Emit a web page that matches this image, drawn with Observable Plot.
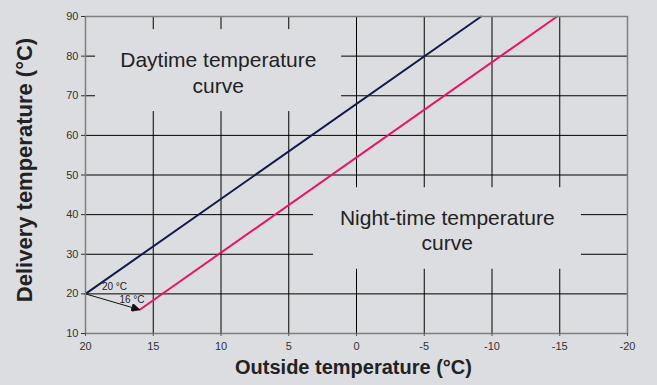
<!DOCTYPE html>
<html>
<head>
<meta charset="utf-8">
<script src="https://cdn.jsdelivr.net/npm/d3@7"></script>
<script src="https://cdn.jsdelivr.net/npm/@observablehq/plot@0.6"></script>
<style>
  html, body { margin: 0; padding: 0; background: #dcdde0; }
  #chart svg { display: block; }
</style>
</head>
<body>
<div id="chart"></div>
<script>
// Tick values
const xTicks = [20, 15, 10, 5, 0, -5, -10, -15, -20];
const yTicks = [10, 20, 30, 40, 50, 60, 70, 80, 90];

// Heating curves (outside temp -> delivery temp)
const dayOutside = [20, -9.2];
const dayDelivery = [20, 90];
const nightOutside = [16, -14.8];
const nightDelivery = [16, 90];

// Setback arrow (20 °C -> 16 °C)
const arrowFrom = [20, 20];
const arrowTo = [16, 16];

// Annotation labels and their backing panels (data units)
const noteTexts = ["Daytime temperature\ncurve", "Night-time temperature\ncurve"];
const noteX = [10.2, -6.7];
const noteY = [76.0, 36.2];
const panelX1 = [19.26, 3.17];
const panelX2 = [1.1, -16.6];
const panelY1 = [66.0, 26.2];
const panelY2 = [86.7, 46.8];

const smallTexts = ["20 °C", "16 °C"];
const smallX = [17.86, 16.57];
const smallY = [21.7, 18.6];

const bg = "#dcdde0";
const day = dayOutside.map((x, i) => ({x, y: dayDelivery[i]}));
const night = nightOutside.map((x, i) => ({x, y: nightDelivery[i]}));
const notes = noteTexts.map((t, i) => ({t, x: noteX[i], y: noteY[i]}));
const panels = panelX1.map((x1, i) => ({x1, x2: panelX2[i], y1: panelY1[i], y2: panelY2[i]}));
const smalls = smallTexts.map((t, i) => ({t, x: smallX[i], y: smallY[i]}));
const arrows = [{x1: arrowFrom[0], y1: arrowFrom[1], x2: arrowTo[0], y2: arrowTo[1]}];

function filledArrow(color) {
  const m = d3.create("svg:marker")
    .attr("viewBox", "0 0 10 10")
    .attr("refX", 10).attr("refY", 5)
    .attr("markerWidth", 9).attr("markerHeight", 8)
    .attr("markerUnits", "userSpaceOnUse")
    .attr("orient", "auto");
  m.append("path").attr("d", "M0,0L10,5L0,10z").attr("fill", color);
  return m.node();
}

const chart = Plot.plot({
  width: 657,
  height: 385,
  marginLeft: 85,
  marginRight: 30,
  marginTop: 16,
  marginBottom: 52,
  style: { background: bg, fontFamily: "'Liberation Sans', Arial, sans-serif", color: "#333" },
  x: { domain: [20, -20] },
  y: { domain: [10, 90] },
  marks: [
    Plot.gridX(xTicks, { stroke: "#000", strokeOpacity: 1, strokeWidth: 1 }),
    Plot.gridY(yTicks, { stroke: "#000", strokeOpacity: 1, strokeWidth: 1 }),
    Plot.rect(panels, { x1: "x1", x2: "x2", y1: "y1", y2: "y2", fill: bg }),
    Plot.line(day, { x: "x", y: "y", stroke: "#111a48", strokeWidth: 2 }),
    Plot.line(night, { x: "x", y: "y", stroke: "#e8146c", strokeWidth: 2 }),
    Plot.link(arrows, { x1: "x1", y1: "y1", x2: "x2", y2: "y2", stroke: "#111", strokeWidth: 1, markerEnd: filledArrow }),
    Plot.frame({ stroke: "#7f7f7f", strokeWidth: 1.5 }),
    Plot.axisX(xTicks, { tickSize: 3, tickPadding: 6, fontSize: 11, fill: "#333", stroke: "#555", tickFormat: d => String(d), label: null }),
    Plot.axisY(yTicks, { tickSize: 4, tickPadding: 3, fontSize: 11, fill: "#333", stroke: "#333", tickFormat: d => String(d), label: null }),
    Plot.text(notes, { x: "x", y: "y", text: "t", fontSize: 21, fill: "#222", lineHeight: 1.2, lineAnchor: "middle" }),
    Plot.text(smalls, { x: "x", y: "y", text: "t", fontSize: 10, fill: "#222" }),
    Plot.text(["Outside temperature (°C)"], { frameAnchor: "bottom", dx: -3, dy: 40, fontSize: 20, fontWeight: "bold", fill: "#222" }),
    Plot.text(["Delivery temperature (°C)"], { frameAnchor: "left", textAnchor: "middle", dx: -61, dy: -5, rotate: -90, fontSize: 22, fontWeight: "bold", fill: "#222" })
  ]
});
document.getElementById("chart").append(chart);
</script>
</body>
</html>
